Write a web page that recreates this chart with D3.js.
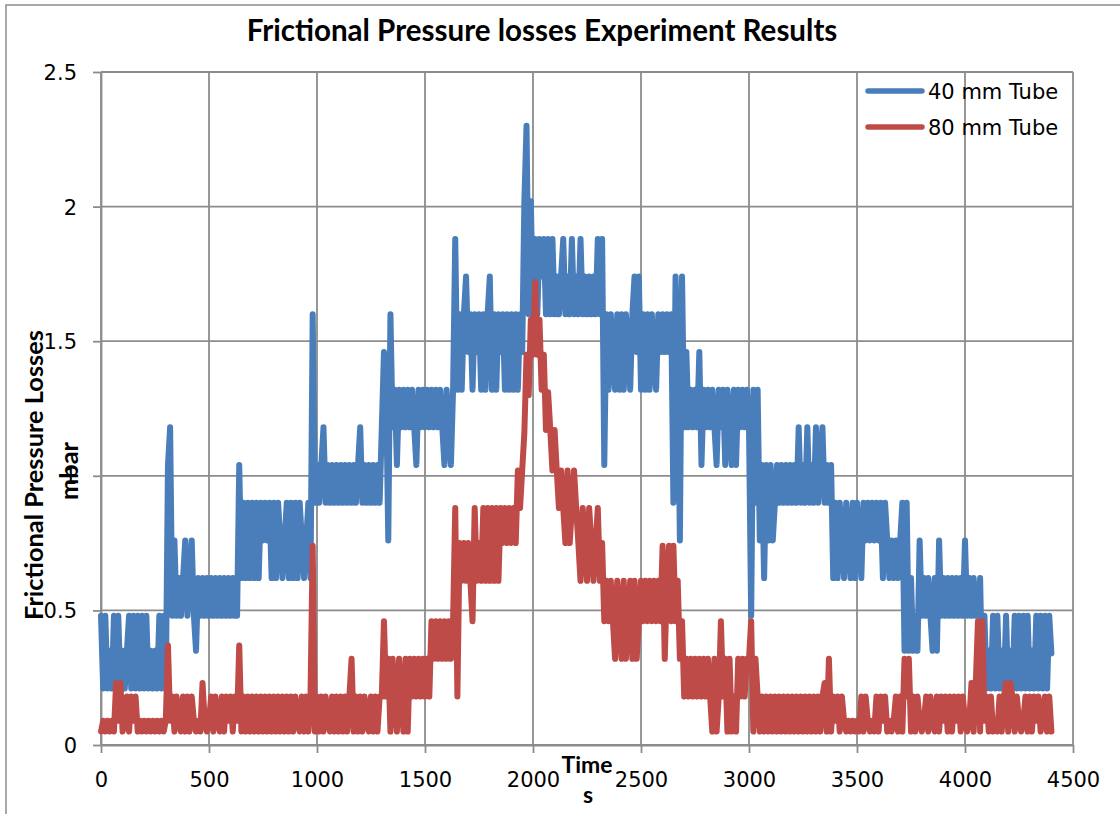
<!DOCTYPE html>
<html>
<head>
<meta charset="utf-8">
<script src="https://cdn.jsdelivr.net/npm/d3@7"></script>
<style>
  body { margin: 0; background: #fff; }
  svg { display: block; }
</style>
</head>
<body>
<svg id="chart" width="1120" height="814"></svg>
<script>
// ---------------- data ----------------
const chartTitle = "Frictional Pressure losses Experiment Results";
const yAxisTitle = ["Frictional Pressure Losses", "mbar"];
const xAxisTitle = ["Time", "s"];
const seriesNames = ["40 mm Tube", "80 mm Tube"];
const xTickValues = [0, 500, 1000, 1500, 2000, 2500, 3000, 3500, 4000, 4500];
const yTickValues = [0, 0.5, 1, 1.5, 2, 2.5];
const sampleStepSeconds = 10;   // one reading every 10 s, starting at 0 s

// 40 mm tube, mbar
const tube40 = [
  0.48,0.21,0.48,0.21,0.35,0.21,0.48,0.21,0.48,0.21,
  0.35,0.21,0.35,0.48,0.21,0.48,0.21,0.48,0.21,0.48,
  0.21,0.48,0.21,0.35,0.21,0.35,0.21,0.48,0.21,0.48,
  0.21,1.04,1.18,0.48,0.76,0.48,0.62,0.48,0.62,0.76,
  0.48,0.62,0.76,0.48,0.35,0.62,0.48,0.62,0.48,0.62,
  0.48,0.62,0.48,0.62,0.48,0.62,0.48,0.62,0.48,0.62,
  0.48,0.62,0.48,0.48,1.04,0.62,0.90,0.62,0.90,0.62,
  0.90,0.62,0.90,0.62,0.90,0.76,0.90,0.76,0.90,0.62,
  0.90,0.62,0.90,0.76,0.62,0.76,0.90,0.62,0.90,0.62,
  0.90,0.62,0.90,0.76,0.62,0.76,0.90,0.62,1.60,0.90,
  1.04,0.90,1.04,1.18,0.90,1.04,0.90,1.04,0.90,1.04,
  0.90,1.04,0.90,1.04,0.90,1.04,0.90,1.04,0.90,1.04,
  1.18,0.90,1.04,0.90,1.04,0.90,1.04,0.90,1.04,0.90,
  1.18,1.46,1.32,0.76,1.60,1.18,1.32,1.04,1.32,1.18,
  1.32,1.18,1.32,1.18,1.32,1.18,1.04,1.32,1.18,1.32,
  1.18,1.32,1.18,1.32,1.18,1.32,1.18,1.32,1.18,1.04,
  1.32,1.18,1.04,1.32,1.88,1.32,1.60,1.32,1.60,1.74,
  1.46,1.60,1.32,1.60,1.46,1.60,1.32,1.60,1.32,1.60,
  1.74,1.32,1.60,1.32,1.60,1.46,1.60,1.32,1.60,1.32,
  1.60,1.32,1.60,1.32,1.60,1.46,2.02,2.30,1.60,2.02,
  1.60,1.88,1.60,1.88,1.74,1.88,1.60,1.88,1.60,1.88,
  1.60,1.74,1.60,1.74,1.88,1.60,1.74,1.60,1.88,1.60,
  1.74,1.60,1.88,1.60,1.74,1.60,1.74,1.60,1.74,1.60,
  1.88,1.60,1.88,1.04,1.60,1.32,1.60,1.46,1.32,1.60,
  1.32,1.60,1.32,1.60,1.46,1.32,1.60,1.74,1.46,1.74,
  1.32,1.60,1.32,1.60,1.32,1.60,1.46,1.32,1.60,1.46,
  1.60,1.46,1.60,1.46,1.60,0.90,1.74,1.46,0.76,1.74,
  1.18,1.46,1.18,1.32,1.18,1.32,1.18,1.46,1.04,1.32,
  1.18,1.32,1.18,1.32,1.18,1.04,1.32,1.18,1.32,1.04,
  1.32,1.18,1.04,1.32,1.04,1.32,1.18,1.32,1.18,1.32,
  1.18,0.48,1.32,0.90,1.32,0.76,1.04,0.62,1.04,0.76,
  1.04,0.76,0.90,1.04,0.90,1.04,0.90,1.04,0.90,1.04,
  0.90,1.04,0.90,1.18,0.90,1.04,0.90,1.18,0.90,1.04,
  0.90,1.18,0.90,1.04,1.18,0.90,1.04,0.90,1.04,0.62,
  0.90,0.62,0.90,0.76,0.62,0.90,0.76,0.62,0.90,0.62,
  0.90,0.76,0.62,0.90,0.76,0.90,0.76,0.90,0.76,0.90,
  0.76,0.90,0.62,0.90,0.76,0.62,0.76,0.62,0.76,0.62,
  0.76,0.90,0.35,0.90,0.35,0.62,0.35,0.48,0.35,0.76,
  0.48,0.62,0.48,0.62,0.48,0.35,0.62,0.35,0.76,0.48,
  0.62,0.48,0.62,0.48,0.62,0.48,0.62,0.48,0.62,0.48,
  0.76,0.48,0.62,0.48,0.62,0.48,0.48,0.62,0.21,0.48,
  0.21,0.35,0.21,0.48,0.21,0.48,0.21,0.35,0.21,0.48,
  0.21,0.35,0.21,0.48,0.21,0.48,0.21,0.48,0.21,0.48,
  0.21,0.35,0.21,0.48,0.21,0.48,0.21,0.48,0.21,0.48,
  0.34
];

// 80 mm tube, mbar
const tube80 = [
  0.05,0.09,0.05,0.09,0.05,0.09,0.05,0.23,0.09,0.23,
  0.05,0.09,0.18,0.05,0.18,0.09,0.18,0.05,0.09,0.05,
  0.09,0.05,0.09,0.05,0.09,0.05,0.09,0.05,0.09,0.05,
  0.09,0.37,0.09,0.18,0.05,0.18,0.09,0.05,0.18,0.05,
  0.18,0.05,0.18,0.09,0.05,0.09,0.05,0.23,0.09,0.05,
  0.09,0.18,0.05,0.18,0.09,0.05,0.18,0.05,0.18,0.09,
  0.18,0.05,0.18,0.09,0.37,0.05,0.18,0.05,0.18,0.05,
  0.18,0.05,0.18,0.05,0.18,0.05,0.18,0.05,0.18,0.05,
  0.18,0.05,0.18,0.05,0.18,0.05,0.18,0.05,0.18,0.05,
  0.18,0.09,0.05,0.18,0.05,0.18,0.05,0.18,0.74,0.05,
  0.18,0.05,0.18,0.05,0.18,0.09,0.05,0.18,0.05,0.18,
  0.05,0.18,0.05,0.18,0.05,0.18,0.32,0.05,0.18,0.05,
  0.18,0.05,0.18,0.09,0.05,0.18,0.05,0.18,0.05,0.18,
  0.18,0.46,0.18,0.32,0.05,0.32,0.18,0.05,0.32,0.18,
  0.05,0.32,0.05,0.32,0.18,0.32,0.18,0.32,0.18,0.32,
  0.18,0.32,0.18,0.46,0.32,0.46,0.32,0.46,0.32,0.46,
  0.32,0.46,0.32,0.46,0.88,0.18,0.75,0.61,0.75,0.61,
  0.75,0.61,0.46,0.88,0.61,0.75,0.61,0.88,0.61,0.88,
  0.61,0.88,0.61,0.88,0.61,0.88,0.75,0.88,0.75,0.88,
  0.75,0.88,0.75,1.02,0.88,1.02,1.16,1.45,1.30,1.58,
  1.45,1.72,1.45,1.58,1.32,1.45,1.17,1.31,1.17,1.02,
  1.17,1.02,0.88,1.02,0.88,0.75,1.02,0.75,0.88,1.02,
  0.88,0.75,0.61,0.88,0.75,0.61,0.88,0.75,0.61,0.75,
  0.88,0.61,0.75,0.46,0.61,0.46,0.61,0.46,0.32,0.61,
  0.46,0.32,0.61,0.32,0.46,0.61,0.32,0.61,0.32,0.46,
  0.61,0.46,0.61,0.46,0.61,0.46,0.61,0.46,0.61,0.46,
  0.74,0.32,0.61,0.74,0.46,0.74,0.46,0.61,0.32,0.46,
  0.18,0.32,0.18,0.32,0.18,0.32,0.18,0.32,0.18,0.32,
  0.18,0.32,0.18,0.05,0.32,0.05,0.18,0.46,0.18,0.32,
  0.05,0.32,0.05,0.18,0.05,0.32,0.18,0.32,0.18,0.32,
  0.32,0.46,0.05,0.32,0.18,0.05,0.18,0.05,0.18,0.05,
  0.18,0.05,0.18,0.05,0.18,0.05,0.18,0.05,0.18,0.05,
  0.18,0.05,0.18,0.05,0.18,0.05,0.18,0.05,0.18,0.05,
  0.18,0.05,0.18,0.05,0.18,0.23,0.05,0.32,0.05,0.18,
  0.09,0.18,0.05,0.18,0.09,0.05,0.09,0.05,0.09,0.05,
  0.09,0.05,0.18,0.05,0.18,0.09,0.05,0.09,0.05,0.18,
  0.05,0.18,0.09,0.18,0.05,0.09,0.05,0.09,0.18,0.05,
  0.18,0.05,0.32,0.18,0.32,0.05,0.18,0.05,0.18,0.09,
  0.05,0.09,0.18,0.05,0.18,0.09,0.05,0.18,0.05,0.18,
  0.09,0.18,0.05,0.18,0.05,0.18,0.09,0.18,0.05,0.18,
  0.09,0.05,0.09,0.23,0.05,0.23,0.46,0.05,0.46,0.09,
  0.18,0.05,0.18,0.05,0.09,0.05,0.18,0.05,0.18,0.23,
  0.05,0.23,0.18,0.05,0.18,0.09,0.05,0.09,0.18,0.05,
  0.18,0.05,0.18,0.09,0.18,0.05,0.09,0.18,0.05,0.18,
  0.05
];

const seriesColors = ["#4A7EBB", "#BE4B48"];

// ---------------- drawing ----------------
const svg = d3.select("#chart");
const plot = { left: 101, right: 1073, top: 72, bottom: 745 };
const gridColor = "#8c8c8c";
const tickFont = "'DejaVu Sans', Verdana, sans-serif";
const boldFont = "Lato, 'Open Sans', sans-serif";

const x = d3.scaleLinear().domain([0, 4500]).range([plot.left, plot.right]);
const y = d3.scaleLinear().domain([0, 2.5]).range([plot.bottom, plot.top]);

// outer chart border (top & left visible in the picture)
svg.append("rect")
  .attr("x", 6).attr("y", 5).attr("width", 1300).attr("height", 1000)
  .attr("fill", "none").attr("stroke", gridColor).attr("stroke-width", 1.5);

// gridlines
const grid = svg.append("g");
grid.selectAll("line.h").data(yTickValues).join("line")
  .attr("x1", plot.left).attr("x2", plot.right)
  .attr("y1", d => y(d)).attr("y2", d => y(d))
  .attr("stroke", gridColor).attr("stroke-width", 1.8);
grid.selectAll("line.v").data(xTickValues).join("line")
  .attr("y1", plot.top).attr("y2", plot.bottom)
  .attr("x1", d => x(d)).attr("x2", d => x(d))
  .attr("stroke", gridColor).attr("stroke-width", 1.8);

// axes
const xAxis = svg.append("g")
  .attr("transform", `translate(0,${plot.bottom})`)
  .call(d3.axisBottom(x).tickValues(xTickValues).tickSize(8).tickSizeOuter(0).tickFormat(d3.format("d")));
const yAxis = svg.append("g")
  .attr("transform", `translate(${plot.left},0)`)
  .call(d3.axisLeft(y).tickValues(yTickValues).tickSize(8).tickSizeOuter(0).tickFormat(d => String(d)));

[xAxis, yAxis].forEach(a => {
  a.select(".domain").attr("stroke", gridColor).attr("stroke-width", 1.8);
  a.selectAll(".tick line").attr("stroke", gridColor).attr("stroke-width", 1.8);
  a.selectAll("text").attr("font-family", tickFont).attr("font-size", 21).attr("fill", "#000");
});
xAxis.selectAll("text").attr("y", 42).attr("dy", 0);
yAxis.selectAll("text").attr("x", -24).attr("dy", "0.36em");

// series
const line = d3.line()
  .x((d, i) => x(i * sampleStepSeconds))
  .y(d => y(d));
[tube40, tube80].forEach((s, k) => {
  svg.append("path")
    .datum(s)
    .attr("d", line)
    .attr("fill", "none")
    .attr("stroke", seriesColors[k])
    .attr("stroke-width", 6)
    .attr("stroke-linejoin", "round")
    .attr("stroke-linecap", "round");
});

// helper: scale font so the text has a target width
function fitWidth(sel, target) {
  const w = sel.node().getComputedTextLength();
  const fs = parseFloat(sel.attr("font-size"));
  if (w > 0) sel.attr("font-size", (fs * target / w).toFixed(2));
  return +sel.attr("font-size");
}

// title
const t = svg.append("text")
  .attr("x", 542).attr("y", 41).attr("text-anchor", "middle")
  .attr("font-family", boldFont).attr("font-weight", "bold").attr("font-size", 26)
  .attr("fill", "#000").text(chartTitle);
fitWidth(t, 591);

// y-axis title (two lines, rotated)
const yt1 = svg.append("text")
  .attr("transform", "translate(43,475) rotate(-90)")
  .attr("text-anchor", "middle")
  .attr("font-family", boldFont).attr("font-weight", "bold").attr("font-size", 22)
  .attr("fill", "#000").text(yAxisTitle[0]);
const yfs = fitWidth(yt1, 290);
svg.append("text")
  .attr("transform", "translate(78,471) rotate(-90)")
  .attr("text-anchor", "middle")
  .attr("font-family", boldFont).attr("font-weight", "bold").attr("font-size", yfs)
  .attr("fill", "#000").text(yAxisTitle[1]);

// x-axis title (two lines)
const xt1 = svg.append("text")
  .attr("x", 587).attr("y", 773).attr("text-anchor", "middle")
  .attr("font-family", boldFont).attr("font-weight", "bold").attr("font-size", 22)
  .attr("fill", "#000").text(xAxisTitle[0]);
const xfs = fitWidth(xt1, 51);
svg.append("text")
  .attr("x", 588).attr("y", 803).attr("text-anchor", "middle")
  .attr("font-family", boldFont).attr("font-weight", "bold").attr("font-size", xfs)
  .attr("fill", "#000").text(xAxisTitle[1]);

// legend
const legend = svg.append("g");
seriesNames.forEach((name, k) => {
  const ly = 91 + k * 36;
  legend.append("line")
    .attr("x1", 868).attr("x2", 922).attr("y1", ly).attr("y2", ly)
    .attr("stroke", seriesColors[k]).attr("stroke-width", 5.5)
    .attr("stroke-linecap", "round");
  legend.append("text")
    .attr("x", 928).attr("y", ly + 7.5)
    .attr("font-family", tickFont).attr("font-size", 21)
    .attr("fill", "#000").text(name);
});
</script>
</body>
</html>
